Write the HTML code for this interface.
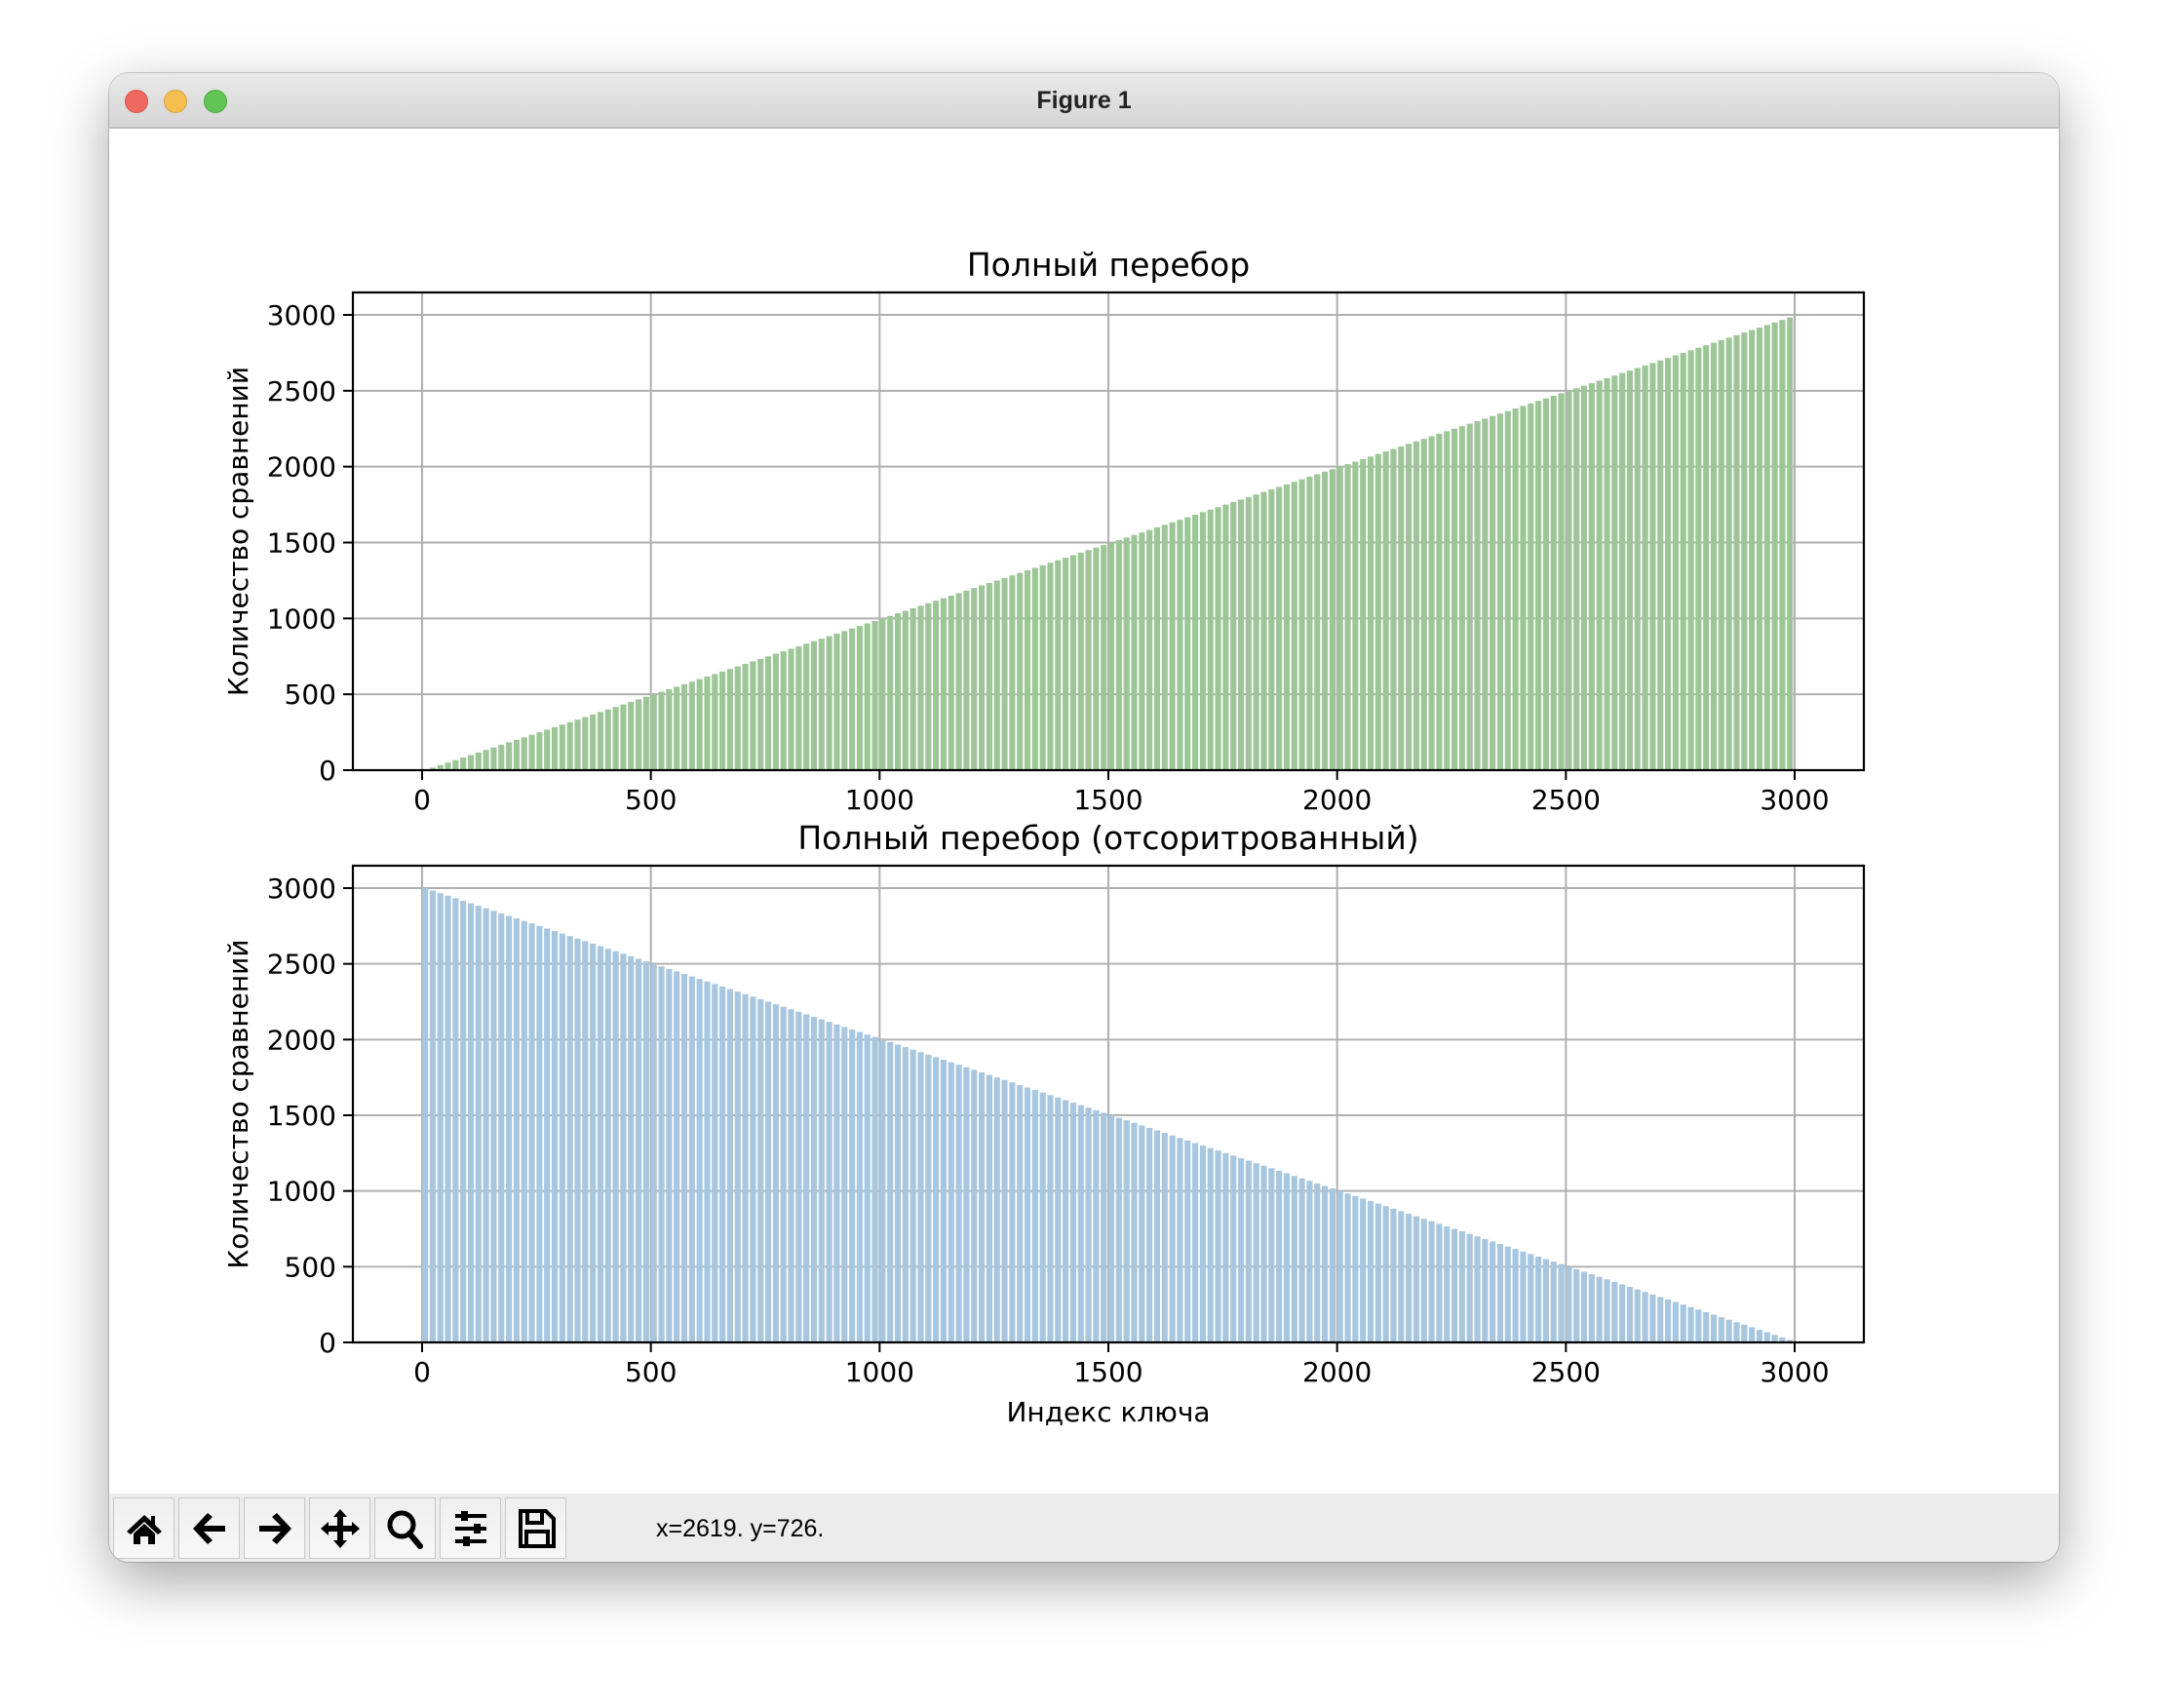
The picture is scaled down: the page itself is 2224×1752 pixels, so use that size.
<!DOCTYPE html>
<html><head><meta charset="utf-8"><style>
html,body{margin:0;padding:0;background:#fff;}
body{width:2224px;height:1752px;position:relative;overflow:hidden;font-family:"DejaVu Sans","Liberation Sans",sans-serif;}
#win{position:absolute;left:112px;top:75px;width:2000px;height:1527px;border-radius:20px;background:#fff;box-shadow:0 20px 60px rgba(0,0,0,0.35),0 0 0 1px rgba(0,0,0,0.18);overflow:hidden;}
#titlebar{position:absolute;left:0;top:0;width:2000px;height:55px;background:linear-gradient(#e9e9e9,#d5d5d5);border-bottom:2px solid #bdbdbd;}
.light{position:absolute;top:17px;width:22px;height:22px;border-radius:50%;}
#wtitle{position:absolute;left:0;width:2000px;top:14px;text-align:center;font:bold 25px "Liberation Sans",sans-serif;color:#222;}
#toolbar{position:absolute;left:0;top:1457px;width:2000px;height:70px;background:#ececec;}
.btn{position:absolute;top:4px;width:63px;height:63px;border:1px solid #c8c8c8;background:linear-gradient(#efefef,#f7f7f7);box-sizing:border-box;}
.btn svg{position:absolute;left:9px;top:9px;}
#status{position:absolute;left:561px;top:22px;font:25px "Liberation Sans",sans-serif;color:#000;}
#chart{position:absolute;left:0;top:0;}
</style></head><body>
<div id="win">
 <div id="titlebar">
  <div class="light" style="left:16px;background:#ee6a5f;border:1px solid #d3534a"></div>
  <div class="light" style="left:56px;background:#f5bf4f;border:1px solid #d9a23a"></div>
  <div class="light" style="left:97px;background:#61c554;border:1px solid #4ca93f"></div>
  <div id="wtitle">Figure 1</div>
 </div>
 <div id="toolbar">
  <div class="btn" style="left:4px"><svg width="44" height="44" viewBox="0 0 44 44"><path d="M22 8 L4 25 L8 28 L22 15 L36 28 L40 25 L33 18 V9 H29 V14 Z" fill="#000"/><path d="M11 27 L22 17 L33 27 V38 H26 V30 H18 V38 H11Z" fill="#000"/></svg></div>
  <div class="btn" style="left:71px"><svg width="44" height="44" viewBox="0 0 44 44"><path d="M20 6 L5 22 L20 38 L25 34 L16 25 H38 V19 H16 L25 10Z" fill="#000"/></svg></div>
  <div class="btn" style="left:138px"><svg width="44" height="44" viewBox="0 0 44 44"><path d="M24 6 L39 22 L24 38 L19 34 L28 25 H6 V19 H28 L19 10Z" fill="#000"/></svg></div>
  <div class="btn" style="left:205px"><svg width="44" height="44" viewBox="0 0 44 44"><path d="M22 2 L29 10 H25 V19 H34 V15 L42 22 L34 29 V25 H25 V34 H29 L22 42 L15 34 H19 V25 H10 V29 L2 22 L10 15 V19 H19 V10 H15Z" fill="#000"/></svg></div>
  <div class="btn" style="left:272px"><svg width="44" height="44" viewBox="0 0 44 44"><circle cx="18" cy="18" r="12" fill="none" stroke="#000" stroke-width="5"/><path d="M26 27 L37 40" stroke="#000" stroke-width="6" stroke-linecap="round"/></svg></div>
  <div class="btn" style="left:339px"><svg width="44" height="44" viewBox="0 0 44 44"><g stroke="#000" stroke-width="4"><path d="M6 9H38M6 22H38M6 35H38"/></g><rect x="12" y="4" width="7" height="10" fill="#000"/><rect x="25" y="17" width="7" height="10" fill="#000"/><rect x="14" y="30" width="7" height="10" fill="#000"/></svg></div>
  <div class="btn" style="left:406px"><svg width="44" height="44" viewBox="0 0 44 44"><path d="M6 4 H32 L40 12 V40 H6Z" fill="none" stroke="#000" stroke-width="4"/><rect x="13" y="4" width="15" height="12" fill="none" stroke="#000" stroke-width="4"/><rect x="12" y="25" width="22" height="15" fill="none" stroke="#000" stroke-width="4"/></svg></div>
  <div id="status">x=2619. y=726.</div>
 </div>
</div>
<svg id="chart" width="2224" height="1752" xmlns="http://www.w3.org/2000/svg" font-family="DejaVu Sans, Liberation Sans, sans-serif"></svg>
<script>
const keys = [];
for (let i = 0; i < 180; i++) keys.push(i * 3000 / 180);
const seriesLinear = keys.map(k => k);
const seriesSorted = keys.map(k => 3000 - k);
const xTicks = [0, 500, 1000, 1500, 2000, 2500, 3000];
const yTicks = [0, 500, 1000, 1500, 2000, 2500, 3000];
const titles = ["Полный перебор", "Полный перебор (отсоритрованный)"];
const yLabel = "Количество сравнений";
const xLabel = "Индекс ключа";
const barWidth = 13;

const NS = "http://www.w3.org/2000/svg";
const svg = document.getElementById('chart');
function mk(tag, attrs, parent){const e=document.createElementNS(NS,tag);for(const k in attrs)e.setAttribute(k,attrs[k]);(parent||svg).appendChild(e);return e;}
const X0=362,X1=1912;
function sx(v){return 433 + v*(1841-433)/3000;}
function drawPanel(top,bottom,values,color,title,pname,showX){
  const y0=bottom, y3=top+23;
  const sy=v=>y0-v*(y0-y3)/3000;
  const g=mk('g',{});
  
  
  xTicks.forEach(t=>{const l=mk('line',{x1:sx(t),x2:sx(t),y1:top,y2:bottom,stroke:'#b0b0b0','stroke-width':2},g);
    
    });
  yTicks.forEach(t=>{const l=mk('line',{x1:X0,x2:X1,y1:sy(t),y2:sy(t),stroke:'#b0b0b0','stroke-width':2},g);
    
    });
  keys.forEach((k,i)=>{const v=values[i];const r=mk('rect',{x:sx(k),y:sy(v),width:sx(k+barWidth)-sx(k),height:y0-sy(v),fill:color},g);
    
    });
  const sp=mk('rect',{x:X0,y:top,width:X1-X0,height:bottom-top,fill:'none',stroke:'#000','stroke-width':2.2},g);
  
  
  xTicks.forEach(t=>{mk('line',{x1:sx(t),x2:sx(t),y1:bottom,y2:bottom+10,stroke:'#000','stroke-width':2},g);
    const tx=mk('text',{x:sx(t),y:bottom+40,'text-anchor':'middle','font-size':28,fill:'#000'},g);tx.textContent=t;
    
    });
  yTicks.forEach(t=>{mk('line',{x1:X0-10,x2:X0,y1:sy(t),y2:sy(t),stroke:'#000','stroke-width':2},g);
    const tx=mk('text',{x:X0-17,y:sy(t)+10,'text-anchor':'end','font-size':28,fill:'#000'},g);tx.textContent=t;
    
    });
  const tt=mk('text',{x:1137,y:top-17,'text-anchor':'middle','font-size':33,fill:'#000'},g);tt.textContent=title;
  
  
  const cy=(top+bottom)/2;
  const yl=mk('text',{x:254,y:cy,'text-anchor':'middle','font-size':28,fill:'#000',transform:`rotate(-90 254 ${cy})`},g);yl.textContent=yLabel;
  
  
  if(showX){const xl=mk('text',{x:1137,y:bottom+81,'text-anchor':'middle','font-size':28,fill:'#000'},g);xl.textContent=xLabel;
    
    }
}
drawPanel(300,790,seriesLinear,'#9dc697',titles[0],'top-chart',false);
drawPanel(888,1377,seriesSorted,'#a7c6df',titles[1],'bottom-chart',true);
</script>
</body></html>
